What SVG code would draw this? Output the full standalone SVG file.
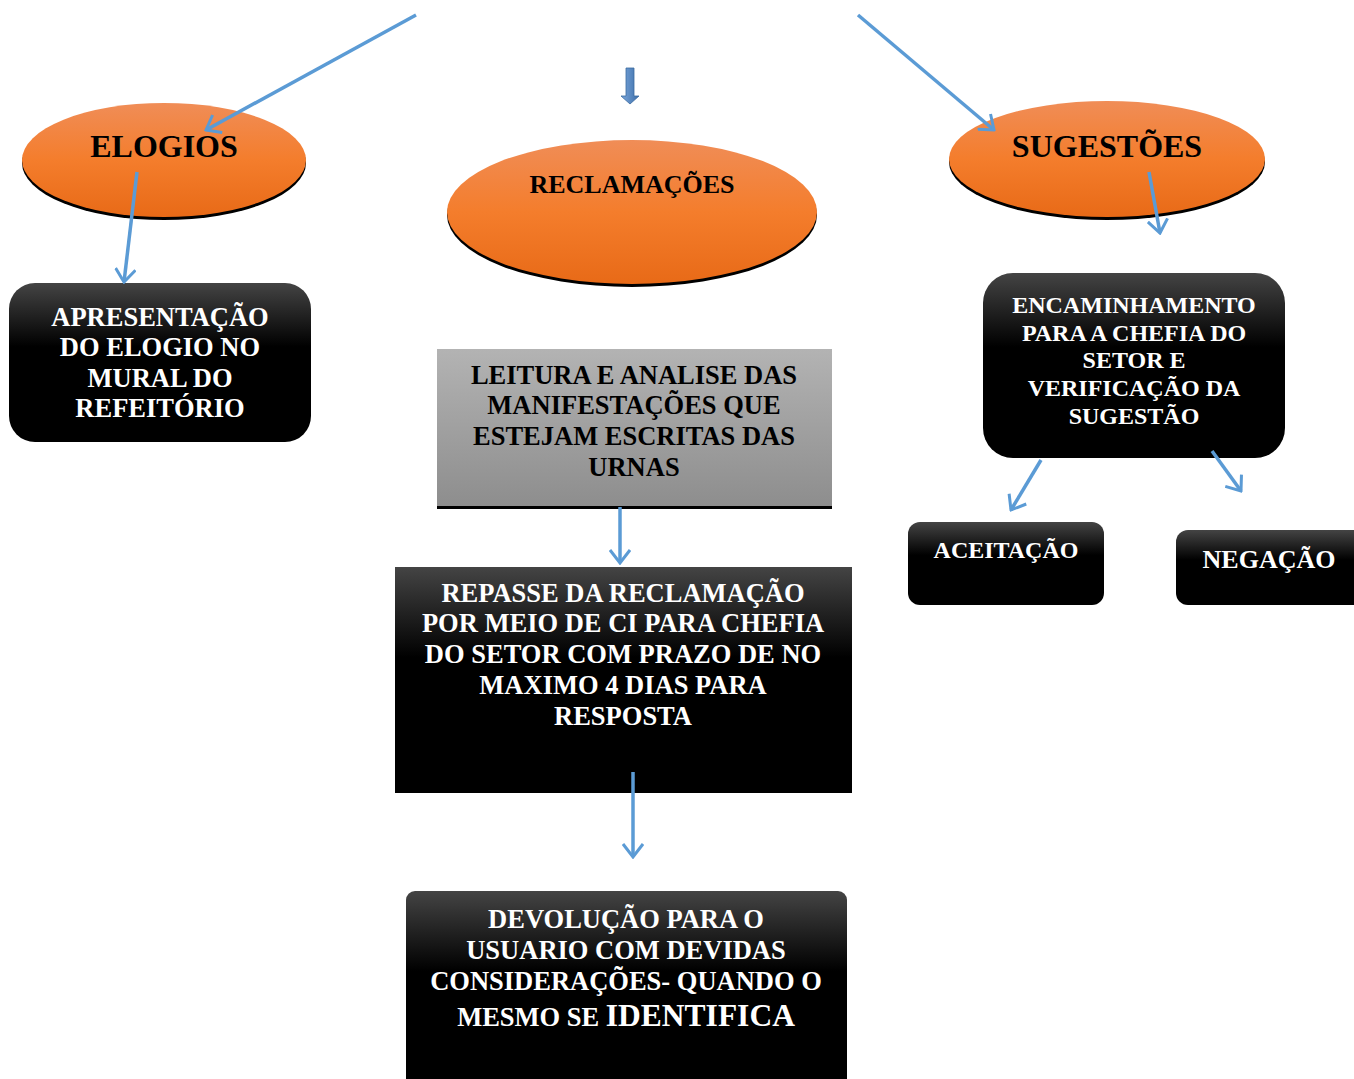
<svg xmlns="http://www.w3.org/2000/svg" width="1354" height="1079" viewBox="0 0 1354 1079">
<defs>
<linearGradient id="gOrange" x1="0" y1="0" x2="0" y2="1">
<stop offset="0" stop-color="#f08d57"/>
<stop offset="0.5" stop-color="#f47d2c"/>
<stop offset="1" stop-color="#e86a17"/>
</linearGradient>
<linearGradient id="gBlack" x1="0" y1="0" x2="0" y2="1">
<stop offset="0" stop-color="#444444"/>
<stop offset="0.4" stop-color="#000000"/>
<stop offset="1" stop-color="#000000"/>
</linearGradient>
<linearGradient id="gGray" x1="0" y1="0" x2="0" y2="1">
<stop offset="0" stop-color="#b3b3b3"/>
<stop offset="1" stop-color="#8d8d8d"/>
</linearGradient>
<linearGradient id="gBlue" x1="0" y1="0" x2="1" y2="0">
<stop offset="0" stop-color="#7aa7dc"/>
<stop offset="1" stop-color="#3d6ea9"/>
</linearGradient>
<marker id="ah" viewBox="0 0 16 22" refX="14" refY="11" markerWidth="16" markerHeight="22" markerUnits="userSpaceOnUse" orient="auto">
<path d="M1,1 L14,11 L1,21" fill="none" stroke="#5b9bd5" stroke-width="3"/>
</marker>
</defs>
<style>
.t{font-family:"Liberation Serif","Times New Roman",serif;font-weight:bold;text-anchor:middle}
.w{fill:#ffffff}
.k{fill:#000000}
.c{stroke:#5b9bd5;stroke-width:3.5;fill:none;marker-end:url(#ah)}
</style>

<g id="elogios">
<ellipse cx="164" cy="163" rx="142" ry="57" fill="#000"/>
<ellipse cx="164" cy="160" rx="142" ry="57" fill="url(#gOrange)"/>
<text class="t k" x="164" y="157" font-size="32">ELOGIOS</text>
</g>

<g id="reclamacoes">
<ellipse cx="632" cy="215" rx="185" ry="72" fill="#000"/>
<ellipse cx="632" cy="212" rx="185" ry="72" fill="url(#gOrange)"/>
<text class="t k" x="632" y="193" font-size="26">RECLAMAÇÕES</text>
</g>

<g id="sugestoes">
<ellipse cx="1107" cy="162" rx="158" ry="58" fill="#000"/>
<ellipse cx="1107" cy="159" rx="158" ry="58" fill="url(#gOrange)"/>
<text class="t k" x="1107" y="157" font-size="32">SUGESTÕES</text>
</g>

<g id="apresentacao">
<rect x="9" y="283" width="302" height="159" rx="26" fill="url(#gBlack)"/>
<text class="t w" font-size="26.5"><tspan x="160" y="326">APRESENTAÇÃO</tspan><tspan x="160" y="356">DO ELOGIO NO</tspan><tspan x="160" y="387">MURAL DO</tspan><tspan x="160" y="417">REFEITÓRIO</tspan></text>
</g>

<g id="leitura">
<rect x="437" y="349" width="395" height="159" fill="url(#gGray)"/>
<rect x="437" y="506" width="395" height="3" fill="#000"/>
<text class="t k" font-size="26.5"><tspan x="634" y="384">LEITURA E ANALISE DAS</tspan><tspan x="634" y="414">MANIFESTAÇÕES QUE</tspan><tspan x="634" y="445">ESTEJAM ESCRITAS DAS</tspan><tspan x="634" y="476">URNAS</tspan></text>
</g>

<g id="repasse">
<rect x="395" y="567" width="457" height="226" fill="url(#gBlack)"/>
<text class="t w" font-size="26.5"><tspan x="623" y="602">REPASSE DA RECLAMAÇÃO</tspan><tspan x="623" y="632">POR MEIO DE CI PARA CHEFIA</tspan><tspan x="623" y="663">DO SETOR COM PRAZO DE NO</tspan><tspan x="623" y="694">MAXIMO 4 DIAS PARA</tspan><tspan x="623" y="725">RESPOSTA</tspan></text>
</g>

<g id="devolucao">
<rect x="406" y="891" width="441" height="200" rx="9" fill="url(#gBlack)"/>
<text class="t w" font-size="26.5"><tspan x="626" y="928">DEVOLUÇÃO PARA O</tspan><tspan x="626" y="959">USUARIO COM DEVIDAS</tspan><tspan x="626" y="990">CONSIDERAÇÕES- QUANDO O</tspan><tspan x="626" y="1026">MESMO SE <tspan font-size="31.5">IDENTIFICA</tspan></tspan></text>
</g>

<g id="encaminhamento">
<rect x="983" y="273" width="302" height="185" rx="30" fill="url(#gBlack)"/>
<text class="t w" font-size="24"><tspan x="1134" y="313">ENCAMINHAMENTO</tspan><tspan x="1134" y="341">PARA A CHEFIA DO</tspan><tspan x="1134" y="368">SETOR E</tspan><tspan x="1134" y="396">VERIFICAÇÃO DA</tspan><tspan x="1134" y="424">SUGESTÃO</tspan></text>
</g>

<g id="aceitacao">
<rect x="908" y="522" width="196" height="83" rx="12" fill="url(#gBlack)"/>
<text class="t w" x="1006" y="558" font-size="24">ACEITAÇÃO</text>
</g>

<g id="negacao">
<rect x="1176" y="530" width="190" height="75" rx="12" fill="url(#gBlack)"/>
<text class="t w" x="1269" y="568" font-size="26">NEGAÇÃO</text>
</g>

<g id="connectors">
<line class="c" x1="416" y1="15" x2="206" y2="130"/>
<line class="c" x1="858" y1="15" x2="994" y2="130"/>
<polygon points="626,68 634,68 634,96 639,96 630,104 621,96 626,96" fill="url(#gBlue)" stroke="#3a6aa0" stroke-width="0.8"/>
<line class="c" x1="137" y1="172" x2="124" y2="282"/>
<line class="c" x1="1149" y1="172" x2="1160" y2="233"/>
<line class="c" x1="620" y1="507" x2="620" y2="563"/>
<line class="c" x1="633" y1="772" x2="633" y2="857"/>
<line class="c" x1="1041" y1="460" x2="1011" y2="510"/>
<line class="c" x1="1212" y1="451" x2="1241" y2="491"/>
</g>
</svg>
